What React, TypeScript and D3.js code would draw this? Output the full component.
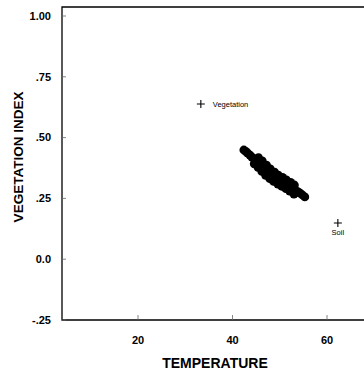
import * as d3 from "d3";

// pixel cluster (temperature, vegetation index)
const clusterTemp = [
  42.4, 42.8, 43.2, 43.7, 44.1, 44.6, 45.0, 45.4, 45.8, 46.3, 46.7, 47.1, 47.5, 48.0, 48.4, 48.8,
  49.2, 49.7, 50.1, 50.5, 50.9, 51.4, 51.8, 52.2, 52.6, 53.0, 53.4, 53.9, 54.3, 54.8, 55.3,
  44.6, 45.4, 46.2, 47.0, 47.9, 48.7, 49.6, 50.4, 51.3, 52.1, 53.0,
  45.5, 46.3, 47.2, 48.0, 48.9, 49.7, 50.6, 51.4, 52.3, 53.1,
];
const clusterVI = [
  0.449, 0.443, 0.436, 0.428, 0.42, 0.412, 0.405, 0.398, 0.391, 0.382, 0.374, 0.366, 0.358, 0.351, 0.345, 0.339,
  0.333, 0.328, 0.323, 0.318, 0.313, 0.308, 0.303, 0.298, 0.293, 0.288, 0.282, 0.277, 0.272, 0.264, 0.256,
  0.392, 0.378, 0.361, 0.345, 0.331, 0.32, 0.309, 0.3, 0.29, 0.28, 0.268,
  0.418, 0.404, 0.387, 0.371, 0.358, 0.346, 0.336, 0.326, 0.316, 0.305,
];

// end members
const endNames = ["Vegetation", "Soil"];
const endTemp = [33.3, 62.3];
const endVI = [0.638, 0.149];

const xTicks = [20, 40, 60];
const yTicks = [1.0, 0.75, 0.5, 0.25, 0, -0.25];
const yTickLabels = ["1.00", ".75", ".50", ".25", "0.0", "-.25"];

const W = 364;
const H = 376;
const frame = { left: 62, top: 7, bottom: 320 };

export default function App() {
  const x = d3.scaleLinear().domain([20, 60]).range([138, 327]);
  const y = d3.scaleLinear().domain([-0.25, 1]).range([frame.bottom, 16]);
  const font = "'Liberation Sans', Arial, sans-serif";

  return (
    <svg
      width={W}
      height={H}
      style={{ position: "absolute", left: 0, top: 0, background: "#fff" }}
      fontFamily={font}
    >
      {/* frame: left, top, bottom (right edge lies outside the crop) */}
      <path
        d={`M${W + 2},${frame.top}H${frame.left}V${frame.bottom}H${W + 2}`}
        fill="none"
        stroke="#000"
        strokeWidth={1.3}
      />

      {/* y ticks + labels */}
      {yTicks.map((t, i) => (
        <g key={i}>
          <line x1={frame.left} x2={frame.left + 4} y1={y(t)} y2={y(t)} stroke="#666" strokeWidth={0.8} />
          <text
            x={51}
            y={y(t)}
            dy="0.35em"
            textAnchor="end"
            fontSize={11}
            fontWeight="bold"
          >
            {yTickLabels[i]}
          </text>
        </g>
      ))}

      {/* x ticks + labels */}
      {xTicks.map((t) => (
        <g key={t}>
          <line x1={x(t)} x2={x(t)} y1={frame.bottom} y2={frame.bottom - 5} stroke="#666" strokeWidth={0.8} />
          <text x={x(t)} y={344} textAnchor="middle" fontSize={11} fontWeight="bold">
            {t}
          </text>
        </g>
      ))}

      {/* axis titles */}
      <text x={215} y={368} textAnchor="middle" fontSize={14} fontWeight="bold">
        TEMPERATURE
      </text>
      <text
        transform={`translate(23,${157}) rotate(-90)`}
        textAnchor="middle"
        fontSize={13.5}
        fontWeight="bold"
      >
        VEGETATION INDEX
      </text>

      {/* pixel cluster */}
      {clusterTemp.map((t, i) => (
        <circle key={i} cx={x(t)} cy={y(clusterVI[i])} r={4.4} fill="#000" />
      ))}

      {/* end members */}
      {endNames.map((n, i) => {
        const cx = x(endTemp[i]);
        const cy = y(endVI[i]);
        return (
          <g key={n}>
            <path d={`M${cx - 4},${cy}H${cx + 4}M${cx},${cy - 4}V${cy + 4}`} stroke="#000" strokeWidth={1.1} />
            {i === 0 ? (
              <text x={cx + 12} y={cy + 2.5} fontSize={7.5} fill="#000">
                {n}
              </text>
            ) : (
              <text x={cx} y={cy + 12} textAnchor="middle" fontSize={7.5} fill="#000">
                {n}
              </text>
            )}
          </g>
        );
      })}
    </svg>
  );
}
